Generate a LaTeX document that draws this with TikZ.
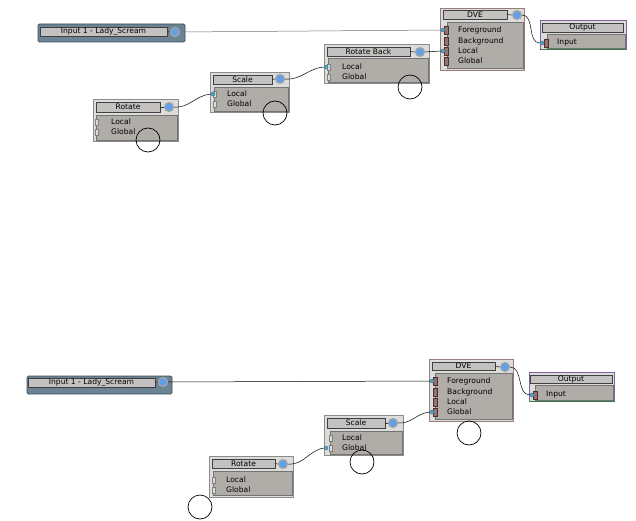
\documentclass[tikz,border=0pt]{standalone}
\usepackage{fontspec}
\setmainfont{DejaVu Sans}
\usetikzlibrary{fit}
\definecolor{framegray}{HTML}{DCDCDA}
\definecolor{framedraw}{HTML}{8C8C8C}
\definecolor{titlefill}{HTML}{C4C2C0}
\definecolor{bodyfill}{HTML}{B0ACA8}
\definecolor{slate}{HTML}{6A8494}
\definecolor{portblue}{HTML}{5FA0E6}
\definecolor{dotcyan}{HTML}{2FB4DC}
\definecolor{dvered}{HTML}{7E4E4E}
\definecolor{dveedge}{HTML}{9A7C7C}
\definecolor{outpurple}{HTML}{8060A0}
\definecolor{outgreen}{HTML}{3C7A3C}
\newcommand\tf{\fontsize{7.6}{8}\selectfont}
\tikzset{
  box/.style={inner sep=0pt, outer sep=0pt},
  frame/.style={box, fill=framegray, draw=framedraw, line width=0.6pt},
  inframe/.style={box, fill=slate, draw=slate!60!black, line width=0.8pt, rounded corners=1.5pt},
  dveframe/.style={box, fill=framegray, draw=dveedge, line width=0.7pt},
  outframe/.style={box, fill=framegray, draw=outpurple, line width=0.8pt},
  titlebar/.style={box, fill=titlefill, draw=black!75, line width=0.6pt},
  ttext/.style={inner sep=0pt, font=\tf, text=black},
  body/.style={box, fill=bodyfill, draw=black!55, line width=0.5pt},
  outport/.style={circle, inner sep=0pt, minimum size=9pt, fill=portblue, draw=gray!70, line width=1.2pt},
  indot/.style={circle, inner sep=0pt, minimum size=4pt, fill=dotcyan, draw=black!60, line width=0.4pt},
  lbl/.style={anchor=west, inner sep=0pt, font=\tf, text=black},
  tab/.style={box, fill=framegray, draw=black!50, line width=0.4pt, minimum width=3pt, minimum height=6pt},
  dvetab/.style={box, fill=dvered!80, draw=dvered!60!black, line width=0.4pt, minimum width=4pt, minimum height=8pt},
  marker/.style={circle, inner sep=0pt, minimum size=24pt, draw=black, line width=0.7pt},
  wire/.style={draw=black, line width=0.5pt},
  stub/.style={draw=black!80, line width=0.6pt}
}
\begin{document}
\begin{tikzpicture}[x=1pt,y=-1pt]
\useasboundingbox[fill=white] (0,0) rectangle (636,521);

% ================= TOP =================
% Input 1 (top)
\node[inframe, fit={(38,24) (185,42)}] (inT) {};
\node[titlebar, fit={(40,27) (167,36)}] (inTt) {};
\node[ttext] (inTx) at (inTt.center) {Input 1 - Lady\_Scream};
\node[outport] (inTp) at (175,32) {};
\draw[stub] (inTt.east) -- (inTp.west);

% Rotate (top)
\node[frame, fit={(93,99) (178,141)}] (roT) {};
\node[titlebar, fit={(96,102) (160,112)}] (roTt) {};
\node[ttext] (roTx) at (roTt.center) {Rotate};
\node[outport] (roTp) at (169,107) {};
\draw[stub] (roTt.east) -- (roTp.west);
\node[body, fit={(96,115) (177,140)}] (roTb) {};
\node[tab] (roTa) at (97,122) {};
\node[tab] (roTc) at (97,132) {};
\node[lbl] (roTl1) at (111,122) {Local};
\node[lbl] (roTl2) at (111,132) {Global};
\node[marker] (roTm) at (148,140) {};

% Scale (top)
\node[frame, fit={(210,72) (289,112)}] (scT) {};
\node[titlebar, fit={(213,75) (272,84)}] (scTt) {};
\node[ttext] (scTx) at (scTt.center) {Scale};
\node[outport] (scTp) at (280,79) {};
\draw[stub] (scTt.east) -- (scTp.west);
\node[body, fit={(214,87) (288,111)}] (scTb) {};
\node[tab] (scTa) at (215,94) {};
\node[tab] (scTc) at (215,104) {};
\node[indot] (scTd) at (213,94) {};
\node[lbl] (scTl1) at (227,94) {Local};
\node[lbl] (scTl2) at (227,104) {Global};
\node[marker] (scTm) at (275,113) {};

% Rotate Back (top)
\node[frame, fit={(324,44) (429,83)}] (rbT) {};
\node[titlebar, fit={(327,47) (410,56)}] (rbTt) {};
\node[ttext] (rbTx) at (rbTt.center) {Rotate Back};
\node[outport] (rbTp) at (420,52) {};
\draw[stub] (rbTt.east) -- (rbTp.west);
\node[body, fit={(328,58) (428,82)}] (rbTb) {};
\node[tab] (rbTa) at (329,67) {};
\node[tab] (rbTc) at (329,77) {};
\node[indot] (rbTd) at (326,67) {};
\node[lbl] (rbTl1) at (342,67) {Local};
\node[lbl] (rbTl2) at (342,77) {Global};
\node[marker] (rbTm) at (410,87) {};

% DVE (top)
\node[dveframe, fit={(440,8) (524,70)}] (dvT) {};
\node[titlebar, fit={(443,10) (507,19)}] (dvTt) {};
\node[ttext] (dvTx) at (dvTt.center) {DVE};
\node[outport] (dvTp) at (517,15) {};
\draw[stub] (dvTt.east) -- (dvTp.west);
\node[body, fit={(447,22) (523,68)}] (dvTb) {};
\node[dvetab] (dvTa1) at (446,30) {};
\node[dvetab] (dvTa2) at (446,41) {};
\node[dvetab] (dvTa3) at (446,51) {};
\node[dvetab] (dvTa4) at (446,61) {};
\node[indot] (dvTd1) at (443,30) {};
\node[indot] (dvTd3) at (443,51) {};
\node[lbl] (dvTl1) at (458,30) {Foreground};
\node[lbl] (dvTl2) at (458,41) {Background};
\node[lbl] (dvTl3) at (458,51) {Local};
\node[lbl] (dvTl4) at (458,61) {Global};

% Output (top)
\node[outframe, fit={(540,20) (626,49)}] (ouT) {};
\draw[outgreen, line width=0.8pt] (ouT.south west) -- (ouT.south east);
\node[titlebar, fit={(542,23) (623,32)}] (ouTt) {};
\node[ttext] (ouTx) at (ouTt.center) {Output};
\node[body, fit={(547,34) (625,48)}] (ouTb) {};
\node[dvetab] (ouTa) at (546,43) {};
\node[indot] (ouTd) at (542,43) {};
\node[lbl] (ouTl) at (557,43) {Input};

% connectors (top)
\draw[wire, draw=black!55] (inTp.east) -- (dvTd1.west);
\draw[wire] (roTp.east) to[out=-5,in=185] (scTd.west);
\draw[wire] (scTp.east) to[out=-5,in=185] (rbTd.west);
\draw[wire] (rbTp.east) -- (dvTd3.west);
\draw[wire] (dvTp.east) to[out=0,in=180] (ouTd.west);

% ================= BOTTOM =================
% Input 1 (bottom)
\node[inframe, fit={(27,376) (172,394)}] (inB) {};
\node[titlebar, fit={(28,378) (155,387)}] (inBt) {};
\node[ttext] (inBx) at (inBt.center) {Input 1 - Lady\_Scream};
\node[outport] (inBp) at (163,382) {};
\draw[stub] (inBt.east) -- (inBp.west);

% DVE (bottom)
\node[dveframe, fit={(429,359) (513,421)}] (dvB) {};
\node[titlebar, fit={(432,362) (495,370)}] (dvBt) {};
\node[ttext] (dvBx) at (dvBt.center) {DVE};
\node[outport] (dvBp) at (505,367) {};
\draw[stub] (dvBt.east) -- (dvBp.west);
\node[body, fit={(435,373) (512,419)}] (dvBb) {};
\node[dvetab] (dvBa1) at (435,381) {};
\node[dvetab] (dvBa2) at (435,392) {};
\node[dvetab] (dvBa3) at (435,402) {};
\node[dvetab] (dvBa4) at (435,412) {};
\node[indot] (dvBd1) at (432,381) {};
\node[indot] (dvBd4) at (432,412) {};
\node[lbl] (dvBl1) at (447,381) {Foreground};
\node[lbl] (dvBl2) at (447,392) {Background};
\node[lbl] (dvBl3) at (447,402) {Local};
\node[lbl] (dvBl4) at (447,412) {Global};
\node[marker] (dvBm) at (469,433) {};

% Output (bottom)
\node[outframe, fit={(529,372) (614,401)}] (ouB) {};
\draw[outgreen, line width=0.8pt] (ouB.south west) -- (ouB.south east);
\node[titlebar, fit={(530,375) (612,383)}] (ouBt) {};
\node[ttext] (ouBx) at (ouBt.center) {Output};
\node[body, fit={(535,385) (613,400)}] (ouBb) {};
\node[dvetab] (ouBa) at (535,395) {};
\node[indot] (ouBd) at (532,395) {};
\node[lbl] (ouBl) at (546,395) {Input};

% Scale (bottom)
\node[frame, fit={(324,415) (403,455)}] (scB) {};
\node[titlebar, fit={(327,418) (385,428)}] (scBt) {};
\node[ttext] (scBx) at (scBt.center) {Scale};
\node[outport] (scBp) at (393,423) {};
\draw[stub] (scBt.east) -- (scBp.west);
\node[body, fit={(330,431) (402,454)}] (scBb) {};
\node[tab] (scBa) at (331,438) {};
\node[tab] (scBc) at (331,448) {};
\node[indot] (scBd) at (326,448) {};
\node[lbl] (scBl1) at (342,438) {Local};
\node[lbl] (scBl2) at (342,448) {Global};
\node[marker] (scBm) at (362,462) {};

% Rotate (bottom)
\node[frame, fit={(209,456) (293,497)}] (roB) {};
\node[titlebar, fit={(212,459) (275,468)}] (roBt) {};
\node[ttext] (roBx) at (roBt.center) {Rotate};
\node[outport] (roBp) at (283,464) {};
\draw[stub] (roBt.east) -- (roBp.west);
\node[body, fit={(213,471) (292,495)}] (roBb) {};
\node[tab] (roBa) at (214,480) {};
\node[tab] (roBc) at (214,490) {};
\node[lbl] (roBl1) at (226,480) {Local};
\node[lbl] (roBl2) at (226,490) {Global};
\node[marker] (roBm) at (200,507) {};

% connectors (bottom)
\draw[wire] (inBp.east) -- (dvBd1.west);
\draw[wire] (roBp.east) to[out=-5,in=190] (scBd.west);
\draw[wire] (scBp.east) to[out=-5,in=185] (dvBd4.west);
\draw[wire] (dvBp.east) to[out=0,in=180] (ouBd.west);
\end{tikzpicture}
\end{document}
